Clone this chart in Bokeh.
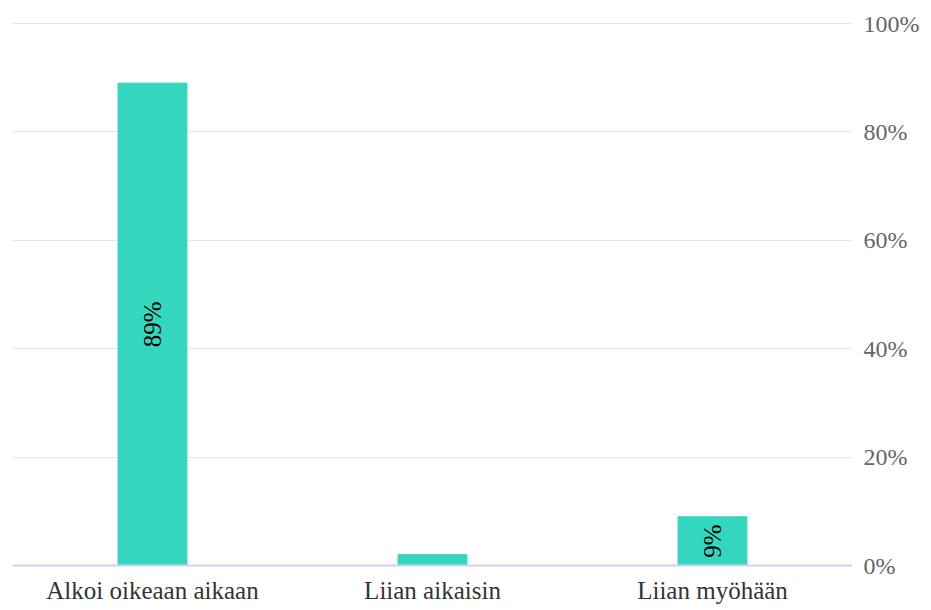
from bokeh.plotting import figure
from bokeh.models import FactorRange, Range1d, LinearAxis, ColumnDataSource, FixedTicker, CustomJSTickFormatter
from bokeh.embed import file_html
from bokeh.resources import INLINE
from bokeh.core.properties import value
import math

categories = ["Alkoi oikeaan aikaan", "Liian aikaisin", "Liian myöhään"]
values = [89, 2, 9]
labels = ["89%", "", "9%"]
y_ticks = [0, 20, 40, 60, 80, 100]

FONT = "Liberation Serif"

src = ColumnDataSource(dict(
    cat=categories, val=values, half=[v / 2 for v in values], lab=labels))

p = figure(x_range=FactorRange(*categories, range_padding=0), y_range=Range1d(0, 100.2),
           frame_width=840, frame_height=543, width=931, height=610,
           output_backend="svg", toolbar_location=None, y_axis_location=None,
           min_border_left=12, min_border_top=22, min_border_right=0, min_border_bottom=0)
p.outline_line_color = None
p.background_fill_color = "white"

p.vbar(x="cat", top="val", width=0.246, source=src, fill_color="#34d6bd", line_color="#34d6bd")
p.text(x="cat", y="half", text="lab", source=src, angle=math.pi / 2,
       text_align="center", text_baseline="middle", text_color="#000000",
       text_font=value(FONT), text_font_size="25px")

yaxis = LinearAxis(ticker=FixedTicker(ticks=y_ticks),
                   formatter=CustomJSTickFormatter(code="return tick + '%';"))
yaxis.axis_line_color = None
yaxis.major_tick_line_color = None
yaxis.minor_tick_line_color = None
yaxis.major_label_text_font = FONT
yaxis.major_label_text_font_size = "24px"
yaxis.major_label_text_color = "#666666"
yaxis.major_label_standoff = 5
p.add_layout(yaxis, "right")

p.ygrid.ticker = FixedTicker(ticks=y_ticks)
p.ygrid.grid_line_color = "#e6e6e6"
p.xgrid.grid_line_color = None

xa = p.xaxis[0]
xa.axis_line_color = "#ccd6eb"
xa.axis_line_width = 2
xa.major_tick_line_color = None
xa.minor_tick_line_color = None
xa.major_label_text_font = FONT
xa.major_label_text_font_size = "25px"
xa.major_label_text_color = "#333333"
xa.major_label_standoff = 5

open("out.html", "w").write(file_html(p, INLINE))
